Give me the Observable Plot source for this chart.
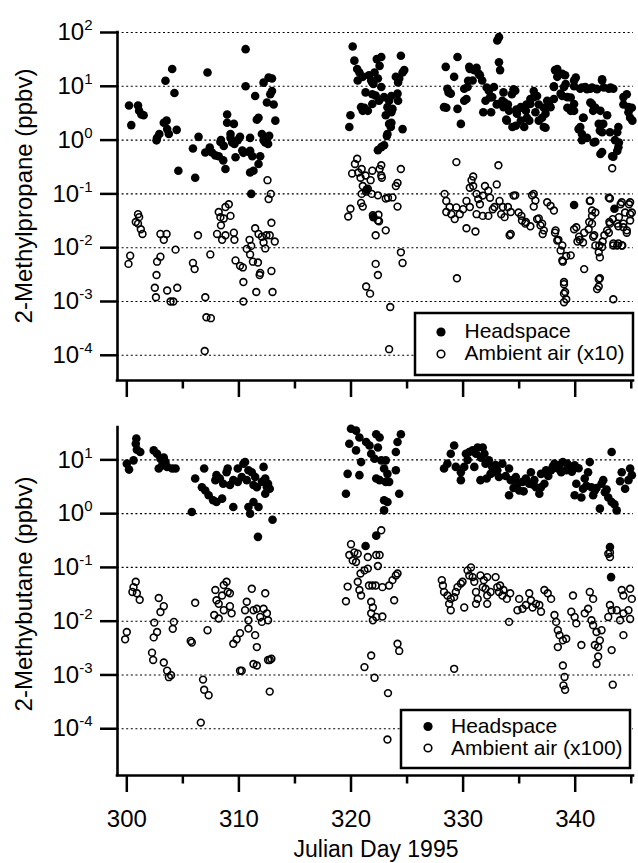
<!DOCTYPE html>
<html>
<head>
<meta charset="utf-8">
<script src="https://cdn.jsdelivr.net/npm/d3@7"></script>
<script src="https://cdn.jsdelivr.net/npm/@observablehq/plot@0.6"></script>
<style>
  html, body { margin: 0; padding: 0; background: white; }
  #chart { width: 638px; position: relative; }
  #chart svg { display: block; }
</style>
</head>
<body>
<div id="chart"></div>
<script>
// ---------- data ----------
const xMajorTicks = [300, 310, 320, 330, 340];
const xMinorTicks = [305, 315, 325, 335, 345];
const topYTicks = [1e-4, 1e-3, 1e-2, 1e-1, 1, 10, 100];
const bottomYTicks = [1e-4, 1e-3, 1e-2, 1e-1, 1, 10];
const topYLabel = "2-Methylpropane (ppbv)";
const bottomYLabel = "2-Methybutane (ppbv)";
const xLabel = "Julian Day 1995";
const topLegend = ["Headspace", "Ambient air (x10)"];
const bottomLegend = ["Headspace", "Ambient air (x100)"];

// 2-Methylpropane, headspace [day, ppbv]
const mpHead = [
[300.2,4.4],[300.4,1.9],[301.0,4.4],[301.1,3.5],[301.3,3.0],[301.5,2.9],
[302.65,0.99],[302.7,1.1],[302.9,1.3],[303.3,2.1],[303.55,2.3],[303.6,1.6],[303.75,1.3],[303.45,12.7],[304.05,21],[304.25,7.5],[304.45,1.55],[304.6,0.27],
[305.9,0.7],[306.1,0.2],[306.4,1.15],[307.2,18],[307.0,0.59],[307.4,0.73],[307.6,0.59],[307.9,0.52],[308.2,0.5],[308.6,0.42],[308.8,0.29],[308.35,0.92],[308.65,0.78],[308.95,3.0],[308.95,2.1],[309.25,1.1],[309.4,0.9],[309.55,2.0],[309.7,0.48],[309.25,1.3],[310.1,1.15],[310.6,49],[310.6,10],[310.3,0.64],[310.9,0.6],[311.0,0.25],[311.1,0.1],
[308.4,1.0],[309.6,0.85],[309.9,1.0],[310.4,0.58],
[312.2,11.7],[312.65,14.5],[312.95,14],[312.95,8.2],[312.8,7.1],[312.5,5.0],[313.1,4.6],[311.45,6.6],[311.75,2.6],[311.6,2.4],[313.25,2.3],[311.0,1.1],[312.05,1.3],[312.5,1.1],[312.35,0.9],[312.7,1.2],[311.0,0.63],[311.2,0.5],[311.9,0.5],[311.75,0.36],[311.3,0.27],[312.2,1.0],[312.6,0.85],
[320.15,55],[320.3,30],[320.55,21],[320.75,18],[320.6,12.8],[321.05,15],[321.6,16],[321.8,12.8],[322.0,11.1],[322.1,18],[322.55,24],[322.7,35],[322.4,14],[322.7,9.7],[322.2,6.7],[322.5,5.4],[322.95,6.3],[323.4,5.4],[323.25,4.1],[323.7,3.8],[324.15,7.3],[324.3,14],[324.6,18],[324.45,37],[324.75,20],[324.0,15],[320.9,4.1],[321.05,3.5],[319.95,2.9],[319.85,1.75],[323.1,2.9],[323.4,2.0],[323.55,1.75],[324.6,1.6],[323.25,1.3],[322.95,0.8],[322.4,0.65],[322.7,0.74],[321.9,7.1],[321.2,4.0],[321.5,3.5],[321.9,4.7],[321.3,7.7],[322.3,32],[321.9,11.8],[323.6,6.6],[323.6,3.3],[323.6,2.1],[323.2,1.2],[324.2,11.8],[324.2,5.4],[321.4,0.12],[322.0,0.037],
[328.45,23],[329.5,35],[329.2,15],[328.6,9],[328.3,4.1],[328.9,7.3],[329.5,3.8],[329.8,2.0],[330.1,5.4],[330.4,9.7],[330.55,23],[331.0,20],[331.4,17],[331.7,12.8],[330.85,12.8],[330.1,9],[332.0,5.4],[332.3,8.3],[332.75,9.7],[333.2,82],[333.05,71],[333.2,28],[333.3,20],[332.6,6.3],[333.05,4.7],[333.5,5.4],[333.6,4.1],[334.1,3.5],[333.9,2.3],[334.4,1.75],[334.8,3.1],[334.65,8.3],[335.15,4.1],[335.6,3.5],[335.45,1.75],[335.7,2.6],[336.0,4.7],[336.3,6.3],[336.75,2.3],[337.2,1.75],[337.35,3.1],[337.8,4.1],[337.5,5.4],[338.2,20],[338.4,15],[338.1,9.7],[339.1,16],[339.0,9.7],[339.9,12.8],[338.7,7.3],[339.3,6.3],[339.9,4.7],[339.6,3.5],[340.45,9],[340.9,9.7],[341.35,9],[341.9,9],[342.4,12.8],[343.0,9],[343.4,9],[340.7,2.6],[340.45,1.75],[340.6,1.3],[341.05,1.1],[341.5,4.7],[341.6,3.5],[341.8,0.93],[342.2,1.5],[342.4,0.6],[342.5,2.0],[342.85,2.9],[343.1,1.4],[343.55,1.0],[343.85,0.74],[343.4,0.49],[343.85,1.75],[344.3,6.3],[344.75,4.1],[344.9,2.6],[345.1,2.3],
[333.6,7.7],[334.5,8.8],[334.35,7.1],[334.0,4.6],[334.75,3.7],[335.2,4.0],[335.65,4.6],[336.0,5.8],[336.3,8.2],[336.6,6.6],[336.75,4.6],[336.45,3.3],[337.05,2.6],[337.35,1.7],[335.9,2.3],[335.15,2.3],[334.7,1.85],[337.2,4.0],[337.65,4.6],[338.1,5.8],[338.1,10],[338.4,21],[338.85,17],[339.15,11],[338.85,6.6],[339.6,6.2],[340.05,14.5],[339.9,10],[339.3,4.0],[339.9,3.5],[340.6,9.5],[341.05,8.8],[341.5,9.5],[341.95,8.8],[342.4,13.5],[342.55,9.5],[343.15,9.5],[341.35,5.0],[341.8,4.0],[342.25,3.5],[342.1,2.0],[340.75,2.6],[340.3,1.6],[340.6,1.0],[341.65,0.9],[342.4,1.4],[343.75,1.4],[343.9,0.9],[343.75,0.63],[342.25,0.55],[343.3,0.5],[344.3,4.6],[344.75,3.3],[345.05,4.0],[344.6,7.1],
[328.7,7.7],[328.5,4.0],[330.3,5.8],[330.45,12.7],[330.6,21],[331.2,22],[331.5,16],[332.1,9.5],[332.4,6.2],[331.8,3.3],[332.5,3.3],[333.0,4.6],[333.7,5.0],[333.85,2.4],
[339.9,0.062],[343.5,0.053]
];

// 2-Methylpropane, ambient air x10 [day, ppbv]
const mpAmb = [
[301.0,0.042],[301.1,0.037],[300.8,0.03],[301.0,0.028],[301.25,0.022],[301.4,0.018],[300.3,0.0071],[300.15,0.005],
[303.0,0.018],[303.55,0.018],[303.3,0.014],[303.0,0.0068],[302.7,0.0055],[304.35,0.0092],[302.65,0.0031],[302.5,0.0018],[302.6,0.0012],[303.6,0.0016],[304.5,0.0018],[303.9,0.001],[304.15,0.001],
[306.35,0.017],[305.9,0.0052],[306.05,0.004],[307.45,0.0075],[307.0,0.0012],[307.1,0.00051],[307.5,0.00049],[306.95,0.00012],
[308.2,0.046],[308.35,0.037],[308.65,0.035],[308.8,0.057],[309.1,0.064],[309.25,0.039],[308.4,0.026],[308.05,0.018],[308.5,0.014],[308.8,0.017],[309.55,0.019],[309.6,0.014],[309.7,0.0058],[310.1,0.0046],[310.35,0.0043],[310.4,0.0023],[310.4,0.001],[310.7,0.0095],[310.95,0.014],
[312.55,0.18],[312.85,0.1],[312.65,0.08],[312.9,0.029],[311.45,0.023],[311.75,0.018],[312.05,0.016],[312.45,0.017],[312.75,0.017],[313.2,0.013],[312.2,0.0125],[312.35,0.0097],[311.1,0.0108],[311.0,0.0075],[311.25,0.0055],[311.7,0.0053],[311.9,0.0034],[311.85,0.0031],[312.9,0.0037],[311.55,0.0015],[313.0,0.0015],
[320.55,0.45],[320.35,0.36],[320.1,0.24],[320.65,0.25],[320.95,0.29],[320.85,0.2],[321.3,0.22],[321.75,0.18],[321.9,0.27],[322.7,0.34],[322.55,0.29],[322.7,0.22],[321.05,0.14],[321.5,0.125],[321.35,0.11],[320.95,0.1],[321.85,0.1],[322.4,0.094],[323.1,0.082],[323.7,0.086],[324.0,0.14],[324.15,0.16],[324.45,0.29],[324.15,0.058],[319.95,0.053],[319.75,0.038],[320.9,0.068],[321.05,0.058],[321.95,0.04],[322.4,0.032],[322.2,0.017],[323.1,0.021],[324.45,0.0082],[324.6,0.0052],[322.2,0.005],[322.4,0.0031],[321.35,0.0019],[321.7,0.0014],[323.5,0.00079],[323.4,0.00013],[322.75,0.2],[323.3,0.085],[322.45,0.041],[322.5,0.031],
[329.4,0.39],[328.35,0.1],[328.5,0.074],[328.8,0.057],[328.5,0.046],[328.95,0.042],[329.25,0.034],[329.7,0.042],[329.4,0.056],[330.0,0.052],[330.3,0.074],[330.6,0.057],[329.45,0.0027],[330.3,0.023],[331.1,0.02],[330.9,0.21],[330.75,0.18],[330.9,0.14],[330.6,0.13],[331.2,0.1],[331.35,0.08],[331.5,0.064],[331.95,0.14],[332.25,0.115],[332.4,0.085],[331.75,0.093],[331.2,0.042],[331.75,0.039],[332.25,0.039],[333.0,0.15],[333.15,0.34],[332.8,0.057],[333.25,0.074],[333.55,0.057],[333.4,0.042],[332.65,0.052],[333.7,0.037],[334.15,0.017],
[334.65,0.094],[334.95,0.045],[335.25,0.032],[335.55,0.028],[336.0,0.025],[336.15,0.094],[336.45,0.075],[336.3,0.058],[336.75,0.035],[337.05,0.028],[337.2,0.021],[337.5,0.07],[337.8,0.06],[338.1,0.049],[338.25,0.021],[338.4,0.0136],[338.85,0.011],[338.7,0.0089],[338.85,0.0058],[339.6,0.0072],[339.0,0.0021],[339.1,0.0015],[339.2,0.0011],[339.0,0.00097],[339.9,0.022],[340.35,0.016],[340.2,0.013],[340.8,0.019],[340.8,0.004],[341.25,0.03],[341.5,0.049],[341.8,0.045],[341.35,0.075],[341.6,0.016],[341.8,0.011],[342.1,0.0082],[342.2,0.0066],[342.4,0.0103],[342.2,0.0027],[342.1,0.0019],[343.1,0.082],[343.4,0.0011],[343.1,0.028],[342.85,0.021],[343.4,0.011],[343.85,0.025],[343.85,0.012],[344.15,0.011],[344.3,0.028],[344.6,0.021],[344.9,0.032],[345.05,0.045],[344.15,0.07],[344.9,0.07],[344.45,0.045],[343.3,0.3],
[334.5,0.093],[336.3,0.1],[334.25,0.046],[334.0,0.057],[335.2,0.039],[335.6,0.03],[336.6,0.034],[336.9,0.026],[337.1,0.018],[338.2,0.019],[338.5,0.014],[339.2,0.007],[338.9,0.0055],[340.1,0.024],[340.4,0.014],[340.7,0.0125],[341.5,0.039],[341.5,0.028],[341.2,0.022],[341.7,0.017],[342.15,0.011],[342.45,0.013],[342.6,0.017],[343.0,0.019],[343.05,0.03],[343.35,0.034],[343.75,0.028],[343.9,0.037],[344.3,0.024],[344.6,0.019],[344.9,0.042],[343.4,0.012],[343.75,0.011],[344.2,0.011],[343.0,0.085],[344.05,0.064],[344.8,0.064],[341.3,0.074],[339.0,0.0023],[339.0,0.0014],[342.1,0.0026],[341.95,0.0017],[334.25,0.018]
];

// 2-Methylbutane, headspace [day, ppbv]
const mbHead = [
[300.0,8.5],[300.2,6.6],[300.6,9.8],[300.85,25],[300.8,20],[300.9,15.5],[301.2,14],[302.4,15],[302.7,13],[303.0,10.5],[303.15,7.9],[302.85,6.9],[303.45,9.1],[303.6,7.4],[304.05,6.9],[304.35,6.9],[303.3,11],
[305.8,1.07],[306.1,4.5],[306.9,6.9],[306.7,3.1],[307.0,2.7],[307.3,2.2],[307.7,1.77],[308.0,1.65],[308.5,1.9],[307.9,4.2],[308.0,5.2],[308.3,4.5],[308.6,3.6],[308.9,5.9],[309.0,6.9],[309.2,3.4],[309.5,4.2],[309.5,1.33],[309.9,3.9],[310.25,4.8],[309.9,6.9],[310.4,8.5],[310.55,9.1],[310.7,4.2],[310.85,6.4],[311.15,5.9],[311.45,4.8],[311.3,3.4],[311.6,3.1],[310.85,1.33],[311.0,1.0],[311.3,1.65],[311.75,1.33],[311.7,0.37],[312.2,7.4],[312.35,4.5],[312.5,3.1],[312.35,2.35],[312.75,2.9],[313.0,0.77],[312.05,3.9],[312.6,3.6],
[320.0,38],[319.85,20],[319.7,5.5],[319.55,2.35],[320.45,35],[320.75,26],[320.45,15],[320.9,9.1],[320.75,5.2],[321.35,21.5],[321.65,18.5],[321.8,13],[322.25,30],[322.55,26],[322.4,17],[322.1,10.5],[322.7,9.8],[323.1,9.8],[322.95,6.9],[323.25,5.5],[324.0,6.4],[324.0,14],[324.15,21.5],[324.45,30],[322.25,4.5],[322.55,4.2],[323.1,3.9],[323.4,3.9],[324.3,2.35],[322.95,1.77],[323.25,1.65],[322.95,1.15],[321.3,0.25],[322.25,0.39],
[328.3,6.9],[328.6,8.5],[328.9,13],[329.2,18.5],[329.35,7.4],[329.8,5.9],[329.8,4.2],[330.1,7.4],[330.25,13],[330.55,14],[330.85,15],[331.15,13],[331.3,17],[331.75,17],[331.9,13],[331.0,7.4],[331.55,4.2],[332.0,8.5],[332.3,9.8],[332.6,7.4],[332.45,5.5],[332.75,5.9],[333.05,6.4],[333.2,4.8],[332.1,4.5],[333.5,8.5],[334.1,6.9],[334.25,4.2],[334.1,2.2],[334.7,4.8],[334.85,3.6],[335.0,2.7],[335.3,3.9],[335.6,4.5],[335.9,3.6],[336.05,5.9],[336.35,4.2],[336.5,3.1],[336.8,2.35],[336.95,3.1],[337.25,3.6],[336.95,5.5],[337.4,6.4],[337.85,6.4],[338.15,8.5],[338.45,6.9],[338.9,9.1],[339.2,6.4],[339.5,7.4],[339.95,7.9],[338.75,5.9],[340.1,3.6],[339.95,2.2],[340.55,2.0],[340.7,2.9],[340.85,4.5],[341.15,5.9],[341.3,9.1],[341.45,3.1],[341.6,2.2],[341.75,2.7],[342.2,1.24],[342.35,3.6],[342.5,4.2],[342.65,2.5],[342.95,2.0],[343.25,1.65],[343.7,1.15],[343.25,14],[344.15,5.9],[344.45,2.9],[344.75,4.2],[344.9,6.9],[345.05,5.2],[343.1,0.24],[343.2,0.066],
[330.4,10],[331.6,11],[332.9,8],[333.8,5],[334.5,3.0],[335.4,2.6],[336.2,3.5],[337.6,5.0],[338.0,7.5],[338.6,8],[339.3,8.5],[339.7,6.0],[340.3,7.0],[341.0,3.3],[341.9,3.0],[342.8,2.8],[343.5,1.5],[344.0,4.0]
];

// 2-Methylbutane, ambient air x100 [day, ppbv]
const mbAmb = [
[300.8,0.054],[300.6,0.043],[300.5,0.035],[300.9,0.033],[301.15,0.025],[300.0,0.0063],[299.85,0.0046],[302.85,0.027],[303.3,0.019],[303.0,0.0148],[302.45,0.0094],[302.7,0.0063],[302.4,0.005],[302.25,0.0026],[302.35,0.0019],[303.3,0.0017],[303.6,0.0012],[303.75,0.00091],[303.95,0.00099],[304.2,0.0097],[304.1,0.0072],[306.1,0.022],[305.7,0.0043],[305.8,0.004],[307.2,0.0068],[306.8,0.00082],[306.9,0.00053],[307.3,0.00042],[306.6,0.00013],[307.8,0.013],[308.2,0.0112],[307.9,0.038],[308.0,0.0245],[308.2,0.021],[308.5,0.03],[308.65,0.047],[308.9,0.054],[309.0,0.035],[309.2,0.033],[308.65,0.016],[309.2,0.019],[309.35,0.014],[309.5,0.0038],[309.8,0.0046],[310.1,0.006],[310.1,0.0012],[310.25,0.0012],[310.7,0.023],[311.15,0.04],[310.55,0.016],[310.85,0.0104],[310.85,0.0073],[311.45,0.0055],[311.6,0.0033],[311.3,0.0016],[311.6,0.0015],[311.3,0.016],[311.6,0.017],[311.9,0.012],[312.2,0.017],[312.35,0.033],[312.5,0.014],[312.6,0.0104],[312.05,0.0097],[312.75,0.0019],[312.6,0.0019],[312.9,0.002],[312.75,0.00049],
[320.0,0.27],[319.85,0.17],[320.15,0.135],[320.3,0.19],[320.6,0.18],[320.45,0.126],[320.85,0.077],[321.2,0.088],[321.5,0.095],[321.5,0.156],[322.25,0.17],[322.55,0.17],[322.4,0.106],[322.7,0.49],[321.6,0.046],[321.9,0.046],[322.2,0.046],[322.8,0.043],[323.4,0.046],[323.7,0.058],[324.0,0.071],[324.15,0.077],[319.7,0.044],[319.55,0.0235],[320.75,0.038],[320.9,0.03],[320.6,0.054],[321.8,0.023],[321.95,0.018],[321.8,0.014],[321.95,0.0104],[322.25,0.012],[322.8,0.0122],[323.85,0.0245],[321.8,0.0023],[321.2,0.0014],[322.1,0.00089],[323.3,0.00046],[324.15,0.0038],[324.3,0.0028],[323.25,0.000063],
[328.1,0.058],[328.2,0.046],[328.3,0.035],[328.6,0.03],[328.9,0.026],[328.75,0.021],[328.9,0.016],[329.2,0.028],[329.35,0.035],[329.5,0.043],[329.8,0.05],[329.95,0.054],[330.1,0.018],[330.4,0.088],[330.7,0.1],[330.55,0.071],[330.85,0.066],[331.0,0.054],[331.15,0.035],[331.3,0.026],[331.15,0.021],[331.55,0.071],[331.85,0.058],[332.15,0.066],[331.75,0.043],[332.0,0.04],[332.15,0.03],[332.45,0.035],[332.15,0.021],[332.9,0.066],[333.05,0.043],[333.2,0.035],[333.5,0.03],[333.6,0.038],[333.3,0.046],[333.9,0.026],[334.2,0.033],[334.1,0.0097],[335.0,0.026],[334.85,0.016],[335.3,0.017],[335.6,0.02],[335.9,0.033],[336.05,0.0245],[336.2,0.018],[336.5,0.021],[336.8,0.02],[336.95,0.015],[337.25,0.038],[337.55,0.033],[337.85,0.026],[338.15,0.013],[338.3,0.0097],[338.45,0.0068],[338.6,0.0055],[338.45,0.0033],[338.9,0.0044],[339.2,0.0047],[338.9,0.0015],[339.05,0.00092],[338.95,0.00064],[339.1,0.00053],[339.8,0.03],[339.65,0.015],[339.95,0.012],[340.1,0.0091],[340.55,0.0036],[340.85,0.014],[341.15,0.017],[341.3,0.035],[341.6,0.026],[341.45,0.0104],[341.6,0.0084],[341.9,0.0063],[341.75,0.0036],[342.05,0.0033],[342.2,0.0044],[342.05,0.0022],[341.9,0.0016],[342.35,0.0068],[342.95,0.012],[343.25,0.016],[343.1,0.02],[343.7,0.016],[344.0,0.0104],[344.3,0.014],[344.75,0.016],[344.9,0.011],[344.15,0.038],[344.3,0.03],[344.9,0.04],[345.05,0.026],[344.3,0.0055],[343.25,0.0029],[343.35,0.00066],[342.95,0.18],[343.1,0.156],[343.1,0.19],[329.2,0.0013]
];

// ---------- drawing ----------
const FONT = "Liberation Sans, Arial, Helvetica, sans-serif";
const W = 638;
const xDomain = [299.17, 345.2];

function panel({height, marginTop, marginBottom, yDomain, yTicks, head, amb, showXLabels}) {
  const marks = [
    Plot.ruleY(yTicks, {strokeDasharray: "2,2.6", strokeWidth: 1.1, stroke: "black"}),
    Plot.axisY({ticks: yTicks, tickSize: 17, tickPadding: 8, strokeWidth: 2.5, fontSize: 24,
      tickFormat: d => String(Math.round(Math.log10(d))), label: null}),
    Plot.axisX({ticks: xMajorTicks, tickSize: 17, tickPadding: 17, strokeWidth: 2.5, fontSize: 24,
      tickFormat: showXLabels ? (d => String(d)) : (() => ""), label: null}),
    Plot.axisX({ticks: xMinorTicks, tickSize: 8.5, strokeWidth: 2.5, tickFormat: () => "", label: null}),
    Plot.ruleX([xDomain[0]], {strokeWidth: 2.6, strokeLinecap: "square"}),
    Plot.ruleY([yDomain[0]], {strokeWidth: 2.6, strokeLinecap: "square"}),
    Plot.dot(amb, {x: d => d[0], y: d => d[1], r: 3.4, fill: "none", stroke: "black", strokeWidth: 1.6}),
    Plot.dot(head, {x: d => d[0], y: d => d[1], r: 4.3, fill: "black", stroke: "none"})
  ];
  return Plot.plot({
    width: W, height, marginLeft: 117, marginRight: 5, marginTop, marginBottom,
    style: {fontFamily: FONT, fontSize: "24px", color: "black", background: "white", overflow: "visible"},
    x: {domain: xDomain, label: null},
    y: {type: "log", domain: yDomain, label: null},
    marks
  });
}

function superscriptTicks(svg) {
  d3.select(svg).selectAll('g[aria-label="y-axis tick label"] text').each(function() {
    const exp = this.textContent;
    const t = d3.select(this);
    t.text("10");
    t.append("tspan").attr("dy", -10).attr("font-size", 15).text(exp);
  });
}

function addTitle(svg, text, x, y, rotate, size) {
  d3.select(svg).append("text")
    .attr("transform", `translate(${x},${y})` + (rotate ? ` rotate(${rotate})` : ""))
    .attr("text-anchor", "middle").attr("font-family", FONT).attr("font-size", size)
    .attr("fill", "black").text(text);
}

function addLegend(svg, box, labels) {
  const g = d3.select(svg).append("g").attr("font-family", FONT).attr("font-size", 21)
    .attr("text-anchor", "start");
  g.append("rect").attr("x", box.x).attr("y", box.y).attr("width", box.w).attr("height", box.h)
    .attr("fill", "white").attr("stroke", "black").attr("stroke-width", 2.5);
  g.append("circle").attr("cx", box.sx).attr("cy", box.r1).attr("r", 4.6).attr("fill", "black");
  g.append("circle").attr("cx", box.sx).attr("cy", box.r2).attr("r", 3.8).attr("fill", "none")
    .attr("stroke", "black").attr("stroke-width", 1.6);
  g.append("text").attr("x", box.tx).attr("y", box.b1).attr("text-anchor", "start").text(labels[0]);
  g.append("text").attr("x", box.tx).attr("y", box.b2).attr("text-anchor", "start").text(labels[1]);
}

const topPanel = panel({height: 400, marginTop: 32, marginBottom: 20, yDomain: [3.4e-5, 100], yTicks: topYTicks,
  head: mpHead, amb: mpAmb, showXLabels: false});
const bottomPanel = panel({height: 463, marginTop: 27, marginBottom: 88, yDomain: [1.35e-5, 40], yTicks: bottomYTicks,
  head: mbHead, amb: mbAmb, showXLabels: true});

superscriptTicks(topPanel);
superscriptTicks(bottomPanel);
addTitle(topPanel, topYLabel, 32, 196, -90, 24);
addTitle(bottomPanel, bottomYLabel, 32, 194, -90, 24);
addTitle(bottomPanel, xLabel, 376, 456.5, 0, 23);
addLegend(topPanel, {x: 415, y: 313, w: 218, h: 62, sx: 441, r1: 332, r2: 354, tx: 464.5, b1: 338, b2: 359.5}, topLegend);
addLegend(bottomPanel, {x: 401, y: 310, w: 229, h: 58, sx: 428, r1: 326.5, r2: 348, tx: 451, b1: 333, b2: 355}, bottomLegend);

document.getElementById("chart").append(topPanel, bottomPanel);
</script>
</body>
</html>
